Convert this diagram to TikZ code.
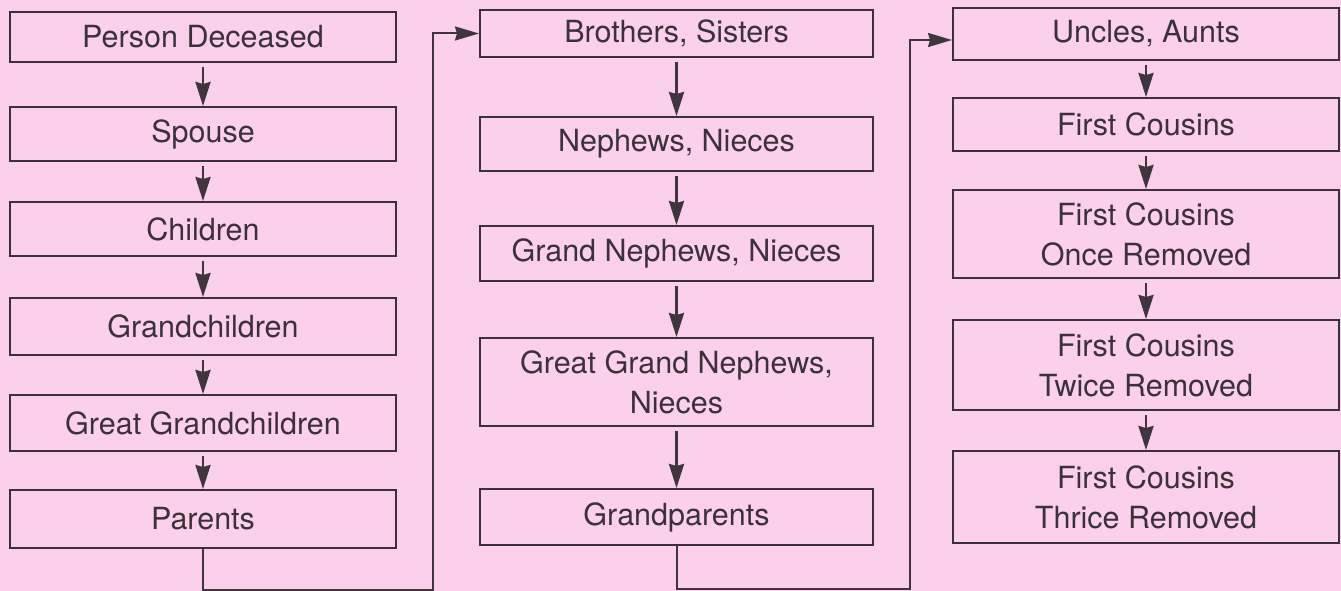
\documentclass[tikz,border=0pt]{standalone}
\usepackage{fontspec}
\setmainfont{TeX Gyre Heros}
\usetikzlibrary{arrows.meta}

\definecolor{pinkbg}{RGB}{250,208,234}
\definecolor{inkgray}{RGB}{58,50,56}
\definecolor{arrowgray}{RGB}{62,54,60}

\tikzset{
  famblock/.style={draw=inkgray, line width=2pt, text=inkgray, align=center,
    inner sep=0pt, font=\fontsize{30.5}{40}\selectfont},
  colA/.style={famblock, minimum width=386pt},
  colB/.style={famblock, minimum width=393pt},
  link/.style={draw=arrowgray, line width=2pt, -{Stealth[length=24pt,width=14pt,inset=2pt]}},
  downlink/.style={link, line width=2.6pt, -{Stealth[length=24pt,width=15pt,inset=2pt]}, shorten <=4pt}
}

\begin{document}
\begin{tikzpicture}[x=1pt,y=-1pt]
\fill[pinkbg] (0,0) rectangle (1341,591);
\useasboundingbox (0,0) rectangle (1341,591);

% first column
\node[colA, minimum height=50pt] (deceased) at (203,37) {Person Deceased};
\node[colA, minimum height=54pt] (spouse) at (203,134) {Spouse};
\node[colA, minimum height=54pt] (children) at (203,229) {Children};
\node[colA, minimum height=57pt] (grandch) at (203,326.5) {Grandchildren};
\node[colA, minimum height=56pt] (greatgrandch) at (203,423) {Great Grandchildren};
\node[colA, minimum height=58pt] (parents) at (203,519) {Parents};

% second column
\node[colB, minimum height=47pt] (siblings) at (676.5,33.5) {Brothers, Sisters};
\node[colB, minimum height=54pt] (nephews) at (676.5,144) {Nephews, Nieces};
\node[colB, minimum height=55pt] (grandneph) at (676.5,253.5) {Grand Nephews, Nieces};
\node[colB, minimum height=88pt] (greatgrandneph) at (676.5,382) {Great Grand Nephews,\\Nieces};
\node[colB, minimum height=56pt] (grandparents) at (676.5,517) {Grandparents};

% third column
\node[colA, minimum height=52pt] (uncles) at (1146,34) {Uncles, Aunts};
\node[colA, minimum height=53pt] (cousins) at (1146,124.5) {First Cousins};
\node[colA, minimum height=88pt] (cousinsonce) at (1146,234) {First Cousins\\Once Removed};
\node[colA, minimum height=90pt] (cousinstwice) at (1146,365) {First Cousins\\Twice Removed};
\node[colA, minimum height=92pt] (cousinsthrice) at (1146,497) {First Cousins\\Thrice Removed};

\draw[downlink] (deceased) -- (spouse);
\draw[downlink] (spouse) -- (children);
\draw[downlink] (children) -- (grandch);
\draw[downlink] (grandch) -- (greatgrandch);
\draw[downlink] (greatgrandch) -- (parents);

\draw[downlink] (siblings) -- (nephews);
\draw[downlink] (nephews) -- (grandneph);
\draw[downlink] (grandneph) -- (greatgrandneph);
\draw[downlink] (greatgrandneph) -- (grandparents);

\draw[downlink] (uncles) -- (cousins);
\draw[downlink] (cousins) -- (cousinsonce);
\draw[downlink] (cousinsonce) -- (cousinstwice);
\draw[downlink] (cousinstwice) -- (cousinsthrice);

% jumps between columns
\coordinate (turnA) at (433,590);
\coordinate (turnB) at (910,589);
\draw[link] (parents.south) |- (turnA) |- (siblings.west);
\draw[link] (grandparents.south) |- (turnB) |- ([yshift=-6pt]uncles.west);
\end{tikzpicture}
\end{document}
